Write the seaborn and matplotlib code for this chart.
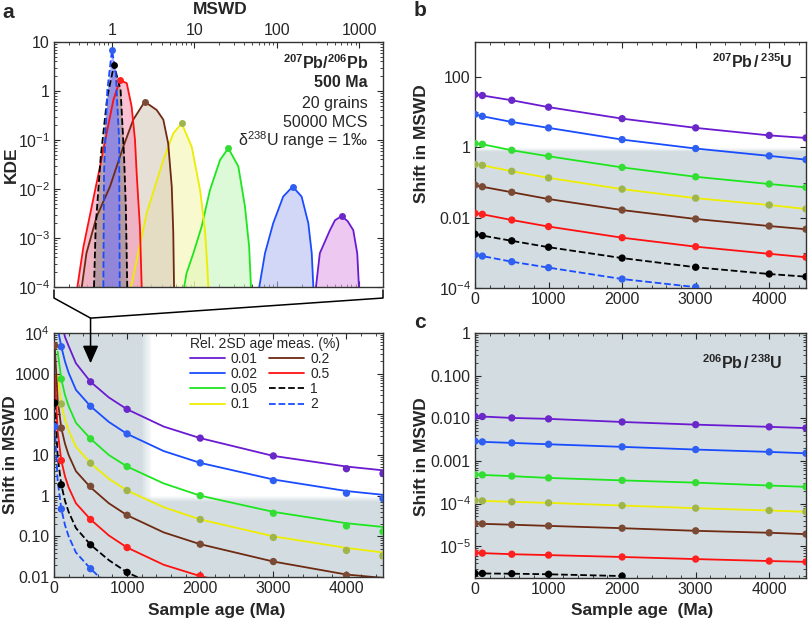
import numpy as np
import matplotlib
matplotlib.use('Agg')
import matplotlib.pyplot as plt
import seaborn as sns
from matplotlib.lines import Line2D
from matplotlib.ticker import FixedLocator, FixedFormatter, LogLocator, MultipleLocator, NullFormatter

nan = np.nan

# --- series (relative 2SD of age measurement, %) ---
SD_LABELS = ['0.01', '0.02', '0.05', '0.1', '0.2', '0.5', '1', '2']
LINE_COLORS = ['#6a1bd1', '#1a4cff', '#1ee61e', '#eded00', '#6e2a12', '#ff1010', '#000000', '#1a4cff']
DOT_COLORS = ['#6a28c8', '#2f5ff0', '#33dd33', '#a0b44c', '#7b4a35', '#ff2020', '#000000', '#3060f0']
FILL_COLORS = ['#e2a6ea', '#b4bcf2', '#c6f6be', '#f6f6b0', '#d6cabb', '#f598b8', '#8f8a90', '#7a7aff']
STYLES = ['-', '-', '-', '-', '-', '-', '--', '--']

# --- panel a (top): KDE of MSWD, 207Pb/206Pb, 500 Ma ---
KDE_MSWD = [
    [297, 331, 439, 505, 608, 720, 841, 940, 986],
    [61, 71.6, 90, 119, 155, 199, 240, 264, 276],
    [7.5, 8.0, 9.7, 12.2, 15.4, 20.4, 25.7, 34, 40.9, 46, 48.4],
    [1.70, 1.99, 2.63, 4.19, 5.53, 7.0, 9.25, 11.7, 13.4, 14.3, 14.7],
    [0.43, 0.49, 0.65, 0.945, 1.37, 1.81, 2.49, 3.48, 4.19, 4.8, 5.3, 5.53, 5.65],
    [0.38, 0.45, 0.59, 0.716, 0.86, 1.04, 1.25, 1.51, 1.73, 1.9, 1.99, 2.08, 2.18, 2.29],
    [0.605, 0.634, 0.73, 0.877, 1.057, 1.27, 1.40, 1.47, 1.53],
    [0.785, 0.80, 0.877, 1.0, 1.11, 1.22, 1.24],
]
KDE_VAL = [
    [1e-4, 4.9e-4, 1.45e-3, 2.3e-3, 2.8e-3, 2.2e-3, 1.45e-3, 4.9e-4, 1e-4],
    [1e-4, 4.9e-4, 2e-3, 7e-3, 0.0112, 7e-3, 2e-3, 4.9e-4, 1e-4],
    [1e-4, 1.9e-4, 4.9e-4, 1.7e-3, 9.5e-3, 0.039, 0.068, 0.029, 4.4e-3, 6.6e-4, 1e-4],
    [1e-4, 3.5e-4, 3.2e-3, 0.039, 0.137, 0.22, 0.073, 9.5e-3, 1.45e-3, 2.6e-4, 1e-4],
    [1e-4, 4.9e-4, 2.7e-3, 0.0112, 0.073, 0.26, 0.605, 0.41, 0.26, 0.085, 0.0112, 1.3e-3, 1e-4],
    [1e-4, 6.6e-4, 6e-3, 0.029, 0.137, 0.66, 1.67, 1.44, 0.48, 0.1, 0.021, 6e-3, 1.7e-3, 1e-4],
    [1e-4, 1.7e-3, 0.046, 0.76, 3.4, 1.05, 0.046, 4.4e-3, 1e-4],
    [1e-4, 0.021, 1.05, 6.9, 2.3, 0.1, 1e-4],
]

# --- panel a (bottom): shift in MSWD vs sample age, 207Pb/206Pb ---
LINE_AGES_A = [10, 50, 100, 150, 200, 300, 500, 750, 1000, 1500, 2000, 3000, 4000, 4500]
LINE_A = [
    [nan, nan, 2.0e4, 8000, 4800, 1800, 630, 260, 133, 50, 26, 9.5, 5.2, 4.2],
    [nan, 1.3e4, 4600, 2000, 1050, 400, 158, 65, 33, 12.5, 6.4, 2.5, 1.3, 1.05],
    [nan, 3500, 740, 300, 160, 62, 25, 10, 5.2, 2.0, 1.0, 0.40, 0.21, 0.17],
    [nan, 900, 180, 75, 40, 16, 6.3, 2.6, 1.34, 0.52, 0.26, 0.10, 0.052, 0.04],
    [4900, 230, 46, 19, 10, 4.0, 1.6, 0.65, 0.33, 0.125, 0.064, 0.024, 0.0115, 0.0095],
    [900, 38, 7.3, 3.0, 1.6, 0.65, 0.26, 0.105, 0.053, 0.02, 0.0105, 0.004, nan, nan],
    [190, 9, 1.85, 0.75, 0.40, 0.16, 0.062, 0.026, 0.013, 0.005, nan, nan, nan, nan],
    [50, 2.3, 0.47, 0.19, 0.10, 0.04, 0.016, 0.006, nan, nan, nan, nan, nan, nan],
]
DOT_AGES_A = [10, 100, 500, 1000, 2000, 3000, 4000, 4500]
DOTS_A = [
    [nan, nan, 630, 133, 26, 9.5, 4.6, 3.5],
    [nan, 4600, 158, 33, 6.4, 2.35, 1.15, 0.85],
    [nan, 740, 25, 5.2, 1.0, 0.37, 0.18, 0.13],
    [nan, 180, 6.3, 1.34, 0.26, 0.094, 0.045, 0.033],
    [4900, 46, 1.7, 0.33, 0.064, 0.024, 0.011, nan],
    [nan, 7.3, 0.26, 0.053, 0.0107, nan, nan, nan],
    [190, 1.85, 0.062, 0.013, nan, nan, nan, nan],
    [50, 0.47, 0.016, nan, nan, nan, nan, nan],
]

# --- panels b and c ---
AGES_BC = [0, 100, 500, 1000, 2000, 3000, 4000, 4500]
SHIFT_B = [
    [32, 30, 22, 14, 6.6, 3.6, 2.2, 1.86],
    [8.7, 7.7, 5.3, 3.6, 1.67, 0.93, 0.575, 0.45],
    [1.29, 1.23, 0.83, 0.56, 0.27, 0.146, 0.091, 0.073],
    [0.33, 0.31, 0.21, 0.136, 0.065, 0.036, 0.023, 0.0177],
    [0.085, 0.076, 0.053, 0.034, 0.0165, 0.0092, 0.0058, 0.0047],
    [0.0133, 0.0125, 0.0086, 0.0056, 0.0027, 0.0015, 0.00094, 0.00075],
    [0.0034, 0.0031, 0.0022, 0.00145, 0.00071, 0.00039, 0.00025, 0.00021],
    [0.00087, 0.00081, 0.00056, 0.00038, 0.00018, 0.000106, nan, nan],
]
SHIFT_C = [
    [0.0111, 0.011, 0.0102, 0.0097, 0.0082, 0.0071, 0.0063, 0.0059],
    [0.0029, 0.0028, 0.00265, 0.00246, 0.00214, 0.00185, 0.00163, 0.00151],
    [0.00048, 0.00047, 0.00044, 0.0004, 0.00035, 0.00031, 0.000265, 0.000247],
    [1.18e-4, 1.16e-4, 1.1e-4, 1.04e-4, 9.0e-5, 7.8e-5, 6.9e-5, 6.4e-5],
    [3.4e-5, 3.35e-5, 3.2e-5, 3.0e-5, 2.65e-5, 2.3e-5, 2.07e-5, 1.92e-5],
    [7.0e-6, 6.9e-6, 6.5e-6, 6.2e-6, 5.6e-6, 5.0e-6, 4.5e-6, 4.3e-6],
    [2.3e-6, 2.3e-6, 2.27e-6, 2.2e-6, 2.0e-6, nan, nan, nan],
    [nan] * 8,
]

SHADE = '#d3dde1'

sns.set_theme(style='ticks')
plt.rcParams['font.family'] = ['Liberation Sans', 'DejaVu Sans']
plt.rcParams['mathtext.fontset'] = 'custom'
plt.rcParams['mathtext.rm'] = 'Liberation Sans'
plt.rcParams['mathtext.it'] = 'Liberation Sans:italic'
plt.rcParams['mathtext.bf'] = 'Liberation Sans:bold'
plt.rcParams['axes.edgecolor'] = '#333333'
plt.rcParams['axes.linewidth'] = 1.0

W, H = 808, 623
fig = plt.figure(figsize=(W / 100, H / 100), dpi=100)


def box(l, t, r, b):
    return [l / W, 1 - b / H, (r - l) / W, (b - t) / H]


ax_kde = fig.add_axes(box(54, 42, 383, 287))
ax_a = fig.add_axes(box(54, 333, 383, 577))
ax_b = fig.add_axes(box(475, 42, 806, 288))
ax_c = fig.add_axes(box(475, 333, 806, 578))

TICK_FS = 11.5


def style_ticks(ax):
    ax.tick_params(which='both', direction='in', top=True, right=True, labelsize=TICK_FS, pad=3)
    ax.tick_params(which='major', length=4, width=0.8)
    ax.tick_params(which='minor', length=2, width=0.6)


def set_logy(ax, ticks, labels):
    ax.set_yscale('log')
    ax.yaxis.set_major_locator(FixedLocator(ticks))
    ax.yaxis.set_major_formatter(FixedFormatter(labels))
    ax.yaxis.set_minor_locator(LogLocator(base=10, subs=np.arange(2, 10), numticks=30))
    ax.yaxis.set_minor_formatter(NullFormatter())


# ---------- KDE panel ----------
for i in range(8):
    x = KDE_MSWD[i]
    y = KDE_VAL[i]
    ax_kde.fill_between(x, y, 1e-4, color=FILL_COLORS[i], alpha=0.6, lw=0, zorder=1 + i * 0.1)
    sns.lineplot(x=x, y=y, ax=ax_kde, color=LINE_COLORS[i], linestyle=STYLES[i], lw=1.3,
                 sort=False, estimator=None, zorder=2 + i * 0.1)
    k = int(np.argmax(y))
    ax_kde.plot(x[k], y[k], 'o', color=DOT_COLORS[i], ms=5, mec='none', zorder=3)

ax_kde.set_xscale('log')
ax_kde.set_xlim(0.198, 1930)
ax_kde.set_ylim(1e-4, 10)
set_logy(ax_kde, [1e-4, 1e-3, 1e-2, 1e-1, 1, 10],
         [r'$10^{-4}$', r'$10^{-3}$', r'$10^{-2}$', r'$10^{-1}$', '1', '10'])
ax_kde.xaxis.set_major_locator(FixedLocator([1, 10, 100, 1000]))
ax_kde.xaxis.set_major_formatter(FixedFormatter(['1', '10', '100', '1000']))
ax_kde.xaxis.set_minor_locator(LogLocator(base=10, subs=np.arange(2, 10), numticks=30))
ax_kde.xaxis.set_minor_formatter(NullFormatter())
style_ticks(ax_kde)
ax_kde.tick_params(axis='x', labeltop=True, labelbottom=False)
ax_kde.set_xlabel('')
ax_kde.set_ylabel('')

kde_txt = [(r'$\mathbf{^{207}Pb/^{206}Pb}$', 0.914, 'bold'),
           ('500 Ma', 0.833, 'bold'),
           ('20 grains', 0.751, 'normal'),
           ('50000 MCS', 0.673, 'normal'),
           ('δ$^{238}$U range = 1‰', 0.600, 'normal')]
for s, yy, fw in kde_txt:
    ax_kde.text(0.954, yy, s, transform=ax_kde.transAxes, ha='right', va='center',
                fontsize=11.5, fontweight=fw)

# ---------- panel a bottom ----------
ax_a.axvspan(0, 1200, color=SHADE, lw=0, zorder=0)
for j in range(12):
    ax_a.axvspan(1200 + j * 12, 1200 + (j + 1) * 12, color=SHADE, alpha=1 - (j + 0.5) / 12, lw=0, zorder=0)
ax_a.axhspan(0.01, 0.7, color=SHADE, lw=0, zorder=0)
edges = np.logspace(np.log10(0.7), np.log10(1.0), 11)
for j in range(10):
    ax_a.axhspan(edges[j], edges[j + 1], color=SHADE, alpha=1 - (j + 0.5) / 10, lw=0, zorder=0)

handles = []
for i in range(8):
    sns.lineplot(x=LINE_AGES_A, y=LINE_A[i], ax=ax_a, color=LINE_COLORS[i], linestyle=STYLES[i],
                 lw=1.3, sort=False, estimator=None, zorder=2)
    sns.scatterplot(x=DOT_AGES_A, y=DOTS_A[i], ax=ax_a, color=DOT_COLORS[i], s=28,
                    edgecolor='none', zorder=3)
    handles.append(Line2D([], [], color=LINE_COLORS[i], linestyle=STYLES[i], lw=1.3))

ax_a.set_xlim(0, 4500)
ax_a.set_ylim(0.01, 1e4)
set_logy(ax_a, [0.01, 0.1, 1, 10, 100, 1000, 1e4],
         ['0.01', '0.10', '1', '10', '100', '1000', r'$10^4$'])
ax_a.xaxis.set_major_locator(MultipleLocator(1000))
ax_a.xaxis.set_minor_locator(MultipleLocator(200))
style_ticks(ax_a)
ax_a.set_xlabel('')
ax_a.set_ylabel('')

leg = ax_a.legend(handles, SD_LABELS, title='Rel. 2SD age meas. (%)', ncol=2, frameon=False,
                  loc='upper left', bbox_to_anchor=(0.405, 0.995), fontsize=10, title_fontsize=10,
                  handlelength=2.5, handletextpad=0.45, columnspacing=0.8, labelspacing=0.08,
                  borderaxespad=0, borderpad=0.2)
leg._legend_box.align = 'left'

# ---------- panel b ----------
ax_b.axhspan(1e-4, 0.75, color=SHADE, lw=0, zorder=0)
edges = np.logspace(np.log10(0.75), np.log10(1.0), 9)
for j in range(8):
    ax_b.axhspan(edges[j], edges[j + 1], color=SHADE, alpha=1 - (j + 0.5) / 8, lw=0, zorder=0)
for i in range(8):
    sns.lineplot(x=AGES_BC, y=SHIFT_B[i], ax=ax_b, color=LINE_COLORS[i], linestyle=STYLES[i],
                 lw=1.3, sort=False, estimator=None, zorder=2)
    sns.scatterplot(x=AGES_BC, y=SHIFT_B[i], ax=ax_b, color=DOT_COLORS[i], s=28,
                    edgecolor='none', zorder=3)
ax_b.set_xlim(0, 4500)
ax_b.set_ylim(1e-4, 1000)
set_logy(ax_b, [1e-4, 1e-2, 1, 100], [r'$10^{-4}$', '0.01', '1', '100'])
ax_b.yaxis.set_minor_locator(LogLocator(base=10, subs=[1.0], numticks=30))
ax_b.xaxis.set_major_locator(MultipleLocator(1000))
ax_b.xaxis.set_minor_locator(MultipleLocator(200))
style_ticks(ax_b)
ax_b.set_xlabel('')
ax_b.set_ylabel('')
ax_b.text(0.958, 0.919, r'$\mathbf{^{207}Pb\,/\,^{235}U}$', transform=ax_b.transAxes,
          ha='right', va='center', fontsize=11.5)

# ---------- panel c ----------
ax_c.set_facecolor(SHADE)
for i in range(8):
    if np.all(np.isnan(SHIFT_C[i])):
        continue
    sns.lineplot(x=AGES_BC, y=SHIFT_C[i], ax=ax_c, color=LINE_COLORS[i], linestyle=STYLES[i],
                 lw=1.3, sort=False, estimator=None, zorder=2)
    sns.scatterplot(x=AGES_BC, y=SHIFT_C[i], ax=ax_c, color=DOT_COLORS[i], s=28,
                    edgecolor='none', zorder=3)
ax_c.set_xlim(0, 4500)
ax_c.set_ylim(1.8e-6, 1)
set_logy(ax_c, [1e-5, 1e-4, 1e-3, 1e-2, 0.1, 1],
         [r'$10^{-5}$', r'$10^{-4}$', '0.001', '0.010', '0.100', '1'])
ax_c.xaxis.set_major_locator(MultipleLocator(1000))
ax_c.xaxis.set_minor_locator(MultipleLocator(200))
style_ticks(ax_c)
ax_c.set_xlabel('')
ax_c.set_ylabel('')
ax_c.text(0.93, 0.88, r'$\mathbf{^{206}Pb\,/\,^{238}U}$', transform=ax_c.transAxes,
          ha='right', va='center', fontsize=11.5)

# ---------- bracket + arrow linking KDE panel to 500 Ma ----------
to_fig = fig.transFigure.inverted()
meet = to_fig.transform(ax_a.get_xaxis_transform().transform((500, 1.061)))
for side in (0, 1):
    p1 = to_fig.transform(ax_kde.transAxes.transform((side, -0.012)))
    p2 = to_fig.transform(ax_kde.transAxes.transform((side, -0.045)))
    fig.add_artist(Line2D([p1[0], p2[0], meet[0]], [p1[1], p2[1], meet[1]],
                          transform=fig.transFigure, color='black', lw=1.1))
ax_a.annotate('', xy=(500, 1800), xycoords='data', xytext=(500, 1.061),
              textcoords=ax_a.get_xaxis_transform(), annotation_clip=False,
              arrowprops=dict(arrowstyle='-|>,head_width=0.4,head_length=0.9', color='black',
                              lw=1.1, shrinkA=0, shrinkB=0))

# ---------- labels ----------
LAB = 12.5
fig.text(220 / W, 1 - 10 / H, 'MSWD', ha='center', va='center', fontsize=LAB, fontweight='bold')
fig.text(11 / W, 1 - 165 / H, 'KDE', ha='center', va='center', rotation=90, fontsize=LAB, fontweight='bold')
fig.text(11 / W, 1 - 455 / H, 'Shift in MSWD', ha='center', va='center', rotation=90, fontsize=LAB, fontweight='bold')
fig.text(422 / W, 1 - 144 / H, 'Shift in MSWD', ha='center', va='center', rotation=90, fontsize=LAB, fontweight='bold')
fig.text(422 / W, 1 - 457 / H, 'Shift in MSWD', ha='center', va='center', rotation=90, fontsize=LAB, fontweight='bold')
fig.text(217 / W, 1 - 610 / H, 'Sample age (Ma)', ha='center', va='center', fontsize=LAB, fontweight='bold')
fig.text(642 / W, 1 - 610 / H, 'Sample age  (Ma)', ha='center', va='center', fontsize=LAB, fontweight='bold')
fig.text(2 / W, 1 - 13 / H, 'a', ha='left', va='center', fontsize=15, fontweight='bold')
fig.text(414 / W, 1 - 11 / H, 'b', ha='left', va='center', fontsize=15, fontweight='bold')
fig.text(414 / W, 1 - 322 / H, 'c', ha='left', va='center', fontsize=15, fontweight='bold')

fig.savefig('out.png', dpi=100)
